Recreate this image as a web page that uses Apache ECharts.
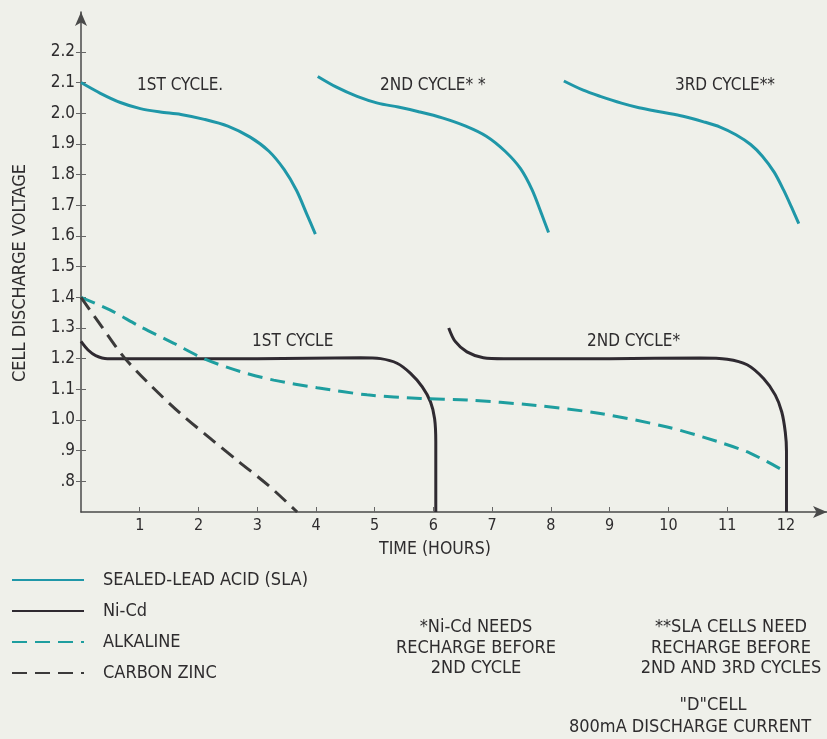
<!DOCTYPE html>
<html>
<head>
<meta charset="utf-8">
<script src="https://cdn.jsdelivr.net/npm/echarts@6/dist/echarts.min.js"></script>
<style>
  html, body { margin: 0; padding: 0; background: #eff0ea; }
  #chart { width: 827px; height: 739px; }
</style>
</head>
<body>
<div id="chart"></div>
<script>
// discharge curves, [hours, volts]
const slaCycle1 = [[0, 2.10], [0.33, 2.065], [0.67, 2.035], [1.01, 2.015], [1.35, 2.004], [1.7, 1.996], [2.1, 1.98], [2.5, 1.958], [2.88, 1.922], [3.2, 1.876], [3.46, 1.816], [3.67, 1.748], [3.84, 1.673], [3.99, 1.606]];
const slaCycle2 = [[4.03, 2.12], [4.35, 2.085], [4.7, 2.055], [5.05, 2.033], [5.4, 2.02], [5.75, 2.005], [6.15, 1.985], [6.55, 1.958], [6.9, 1.925], [7.22, 1.876], [7.48, 1.82], [7.68, 1.75], [7.84, 1.672], [7.96, 1.611]];
const slaCycle3 = [[8.22, 2.105], [8.55, 2.075], [8.84, 2.055], [9.2, 2.033], [9.5, 2.018], [9.9, 2.003], [10.25, 1.99], [10.6, 1.972], [10.88, 1.955], [11.15, 1.93], [11.4, 1.898], [11.6, 1.86], [11.8, 1.808], [11.96, 1.75], [12.1, 1.692], [12.22, 1.64]];
const nicdCycle1 = [[0, 1.256], [0.12, 1.228], [0.25, 1.21], [0.45, 1.2], [1.5, 1.2], [3, 1.2], [4.76, 1.203], [5.1, 1.2], [5.38, 1.185], [5.61, 1.152], [5.81, 1.108], [5.95, 1.059], [6.02, 1.004], [6.04, 0.928], [6.04, 0.7]];
const nicdCycle2 = [[6.26, 1.30], [6.37, 1.256], [6.57, 1.222], [6.85, 1.203], [7.2, 1.2], [9, 1.2], [10.54, 1.202], [11.0, 1.198], [11.34, 1.18], [11.62, 1.135], [11.82, 1.081], [11.93, 1.026], [11.99, 0.96], [12.01, 0.9], [12.01, 0.7]];
const alkaline = [[0, 1.4], [0.5, 1.358], [1.0, 1.305], [1.58, 1.25], [2.09, 1.2], [2.71, 1.158], [3.28, 1.13], [4.02, 1.105], [4.87, 1.082], [5.78, 1.07], [6.57, 1.065], [7.71, 1.048], [8.84, 1.021], [9.98, 0.977], [10.83, 0.93], [11.39, 0.892], [11.96, 0.835]];
const carbonZinc = [[0, 1.4], [0.35, 1.305], [0.73, 1.205], [1.2, 1.11], [1.7, 1.02], [2.2, 0.94], [2.7, 0.862], [3.2, 0.785], [3.68, 0.7]];

const xTicks = [1, 2, 3, 4, 5, 6, 7, 8, 9, 10, 11, 12];
const yTicks = [0.8, 0.9, 1.0, 1.1, 1.2, 1.3, 1.4, 1.5, 1.6, 1.7, 1.8, 1.9, 2.0, 2.1, 2.2];

const FONT = '"Liberation Sans Narrow", "DejaVu Sans Condensed", "Liberation Sans", sans-serif';
const TXT = '#2e2c2e';
const SLA_COLOR = '#1f97a8';
const NICD_COLOR = '#2f2a31';
const ALK_COLOR = '#1e9e9f';
const CZ_COLOR = '#3b3a3a';

function curve(name, data, color, dashed) {
  return {
    name: name,
    type: 'line',
    data: data,
    smooth: 0.3,
    showSymbol: false,
    symbol: 'none',
    silent: true,
    lineStyle: {
      color: color,
      width: 3,
      type: dashed ? [15, 8] : 'solid',
      cap: 'butt'
    },
    itemStyle: { color: color }
  };
}

function txt(x, y, text, size, align) {
  return {
    type: 'text',
    x: x,
    y: y,
    style: {
      text: text,
      fill: TXT,
      font: size + 'px ' + FONT,
      align: align || 'left',
      verticalAlign: 'middle'
    }
  };
}

const chart = echarts.init(document.getElementById('chart'));
chart.setOption({
  backgroundColor: '#eff0ea',
  animation: false,
  grid: { left: 81, right: 0, top: 12, bottom: 227, containLabel: false },
  legend: {
    orient: 'vertical',
    left: 6,
    top: 566,
    itemWidth: 72,
    itemHeight: 14,
    itemGap: 13,
    selectedMode: false,
    data: ['SEALED-LEAD ACID (SLA)', 'Ni-Cd', 'ALKALINE', 'CARBON ZINC'],
    itemStyle: { opacity: 0 },
    textStyle: { color: TXT, fontSize: 18, fontFamily: FONT, padding: [0, 0, 0, 14] }
  },
  xAxis: {
    type: 'value',
    min: 0,
    max: 12.7,
    splitLine: { show: false },
    axisLine: {
      show: true,
      onZero: false,
      symbol: ['none', 'arrow'],
      symbolSize: [9, 14],
      lineStyle: { color: '#4a4a4a', width: 1.5 }
    },
    axisTick: { show: true, inside: true, length: 5, customValues: xTicks, lineStyle: { color: '#666' } },
    axisLabel: { customValues: xTicks, color: TXT, fontSize: 16, fontFamily: FONT, margin: 6 }
  },
  yAxis: [{
    type: 'value',
    min: 0.7,
    max: 2.33,
    splitLine: { show: false },
    axisLine: {
      show: true,
      onZero: false,
      symbol: ['none', 'arrow'],
      symbolSize: [9, 14],
      lineStyle: { color: '#4a4a4a', width: 1.5 }
    },
    axisTick: { show: true, length: 5, customValues: yTicks, lineStyle: { color: '#666' } },
    axisLabel: {
      customValues: yTicks,
      color: TXT,
      fontSize: 17,
      fontFamily: FONT,
      margin: 6,
      formatter: function (v) {
        const s = v.toFixed(1);
        return v < 1 ? s.slice(1) : s;
      }
    }
  }, {
    // second copy of the axis, only to let the ticks cross the line
    type: 'value',
    position: 'left',
    min: 0.7,
    max: 2.33,
    splitLine: { show: false },
    axisLine: { show: false },
    axisLabel: { show: false },
    axisTick: { show: true, inside: true, length: 5, customValues: yTicks, lineStyle: { color: '#666' } }
  }],
  series: [
    curve('SEALED-LEAD ACID (SLA)', slaCycle1, SLA_COLOR, false),
    curve('SEALED-LEAD ACID (SLA)', slaCycle2, SLA_COLOR, false),
    curve('SEALED-LEAD ACID (SLA)', slaCycle3, SLA_COLOR, false),
    curve('Ni-Cd', nicdCycle1, NICD_COLOR, false),
    curve('Ni-Cd', nicdCycle2, NICD_COLOR, false),
    curve('ALKALINE', alkaline, ALK_COLOR, true),
    curve('CARBON ZINC', carbonZinc, CZ_COLOR, true)
  ],
  graphic: [
    {
      type: 'text',
      x: 20,
      y: 273,
      rotation: Math.PI / 2,
      style: {
        text: 'CELL DISCHARGE VOLTAGE',
        fill: TXT,
        font: '18px ' + FONT,
        align: 'center',
        verticalAlign: 'middle'
      }
    },
    txt(435, 549, 'TIME (HOURS)', 17.5, 'center'),
    txt(137, 86, '1ST CYCLE.', 17),
    txt(380, 86, '2ND CYCLE* *', 17),
    txt(675, 86, '3RD CYCLE**', 17),
    txt(252, 342, '1ST CYCLE', 17),
    txt(587, 342, '2ND CYCLE*', 17),
    txt(476, 627, '*Ni-Cd NEEDS', 18, 'center'),
    txt(476, 648, 'RECHARGE BEFORE', 18, 'center'),
    txt(476, 668, '2ND CYCLE', 18, 'center'),
    txt(731, 627, '**SLA CELLS NEED', 18, 'center'),
    txt(731, 648, 'RECHARGE BEFORE', 18, 'center'),
    txt(731, 668, '2ND AND 3RD CYCLES', 18, 'center'),
    txt(713, 705, '"D"CELL', 18, 'center'),
    txt(690, 727, '800mA DISCHARGE CURRENT', 18, 'center')
  ]
});
window.onresize = function () {
  chart.resize();
};
</script>
</body>
</html>
